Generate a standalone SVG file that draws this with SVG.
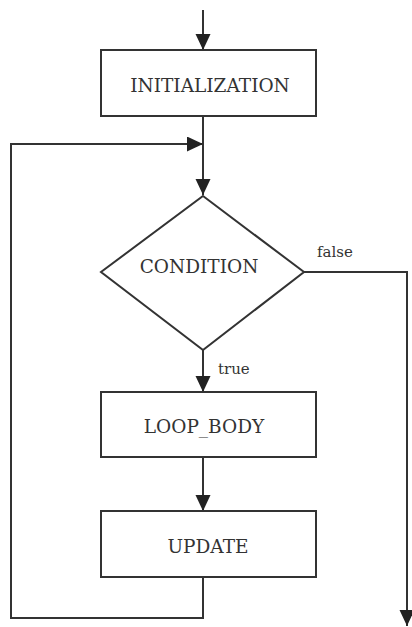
<svg xmlns="http://www.w3.org/2000/svg" width="412" height="627" viewBox="0 0 412 627">
<style>
.box{fill:#fff;stroke:#333;stroke-width:2}
.lbl{font-family:"DejaVu Serif","Liberation Serif",serif;font-size:18.5px;fill:#333;text-anchor:middle}
.small{font-family:"DejaVu Serif","Liberation Serif",serif;font-size:15px;fill:#333}
.edge{fill:none;stroke:#333;stroke-width:2}
</style>
<defs>
<marker id="arr" markerUnits="userSpaceOnUse" markerWidth="16" markerHeight="16" refX="16" refY="7.5" orient="auto">
<path d="M0,0 L16,7.5 L0,15 z" fill="#222"/>
</marker>
</defs>
<rect width="412" height="627" fill="#fff"/>
<g id="connectors">
<path class="edge" d="M203,10 V50" marker-end="url(#arr)"/>
<path class="edge" d="M203,116 V195" marker-end="url(#arr)"/>
<path class="edge" d="M203,577 V618 H11 V144 H203" marker-end="url(#arr)"/>
<path class="edge" d="M203,350 V392" marker-end="url(#arr)"/>
<path class="edge" d="M203,457 V511" marker-end="url(#arr)"/>
<path class="edge" d="M304,272 H407 V626" marker-end="url(#arr)"/>
<text class="small" x="317" y="257">false</text>
<text class="small" x="218" y="374">true</text>
</g>
<g id="initialization">
<rect class="box" x="101" y="50" width="215" height="66"/>
<text class="lbl" x="210" y="92">INITIALIZATION</text>
</g>
<g id="condition">
<polygon class="box" points="203,196 304,272 203,350 101,272"/>
<text class="lbl" x="199" y="273">CONDITION</text>
</g>
<g id="loop_body">
<rect class="box" x="101" y="392" width="215" height="65"/>
<text class="lbl" x="204" y="433">LOOP_BODY</text>
</g>
<g id="update">
<rect class="box" x="101" y="511" width="215" height="66"/>
<text class="lbl" x="208" y="553">UPDATE</text>
</g>
</svg>
